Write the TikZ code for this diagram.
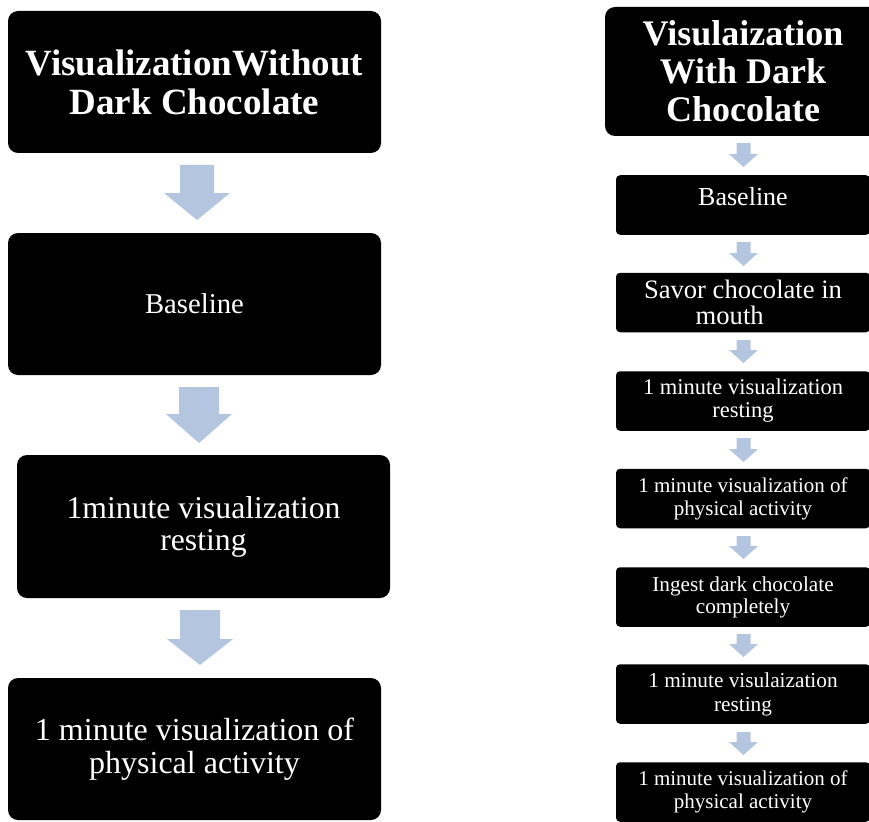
\documentclass[tikz,border=0pt]{standalone}
\usepackage{fontspec}
\setmainfont{Liberation Serif}
\definecolor{arrowfill}{RGB}{180,197,223}
\tikzset{
  lbox/.style={fill=black, rounded corners=10pt, minimum width=373pt, minimum height=142pt, text=white, align=center, inner sep=0pt},
  rbox/.style={fill=black, rounded corners=4pt, minimum width=254pt, minimum height=59.5pt, text=white, align=center, inner sep=0pt},
}
\newcommand\barrow[6]{%
  \fill[arrowfill] (#1-#4,#2) -- (#1+#4,#2) -- (#1+#4,#3-#6) -- (#1+#5,#3-#6) -- (#1,#3) -- (#1-#5,#3-#6) -- (#1-#4,#3-#6) -- cycle;}
\begin{document}
\begin{tikzpicture}[x=1pt,y=-1pt]
\useasboundingbox (0,0) rectangle (869,821);
\clip (0,0) rectangle (869,821);
% left column
\node[lbox, font=\bfseries\fontsize{37}{39}\selectfont] (L1) at (194.5,82) {VisualizationWithout\\Dark Chocolate};
\node[lbox, font=\fontsize{28.7}{30}\selectfont] (L2) at (194.5,304) {Baseline};
\node[lbox, minimum height=143pt, font=\fontsize{31.7}{32}\selectfont] (L3) at (203.5,526.5) {1minute visualization\\resting};
\node[lbox, font=\fontsize{32}{33}\selectfont] (L4) at (194.5,749) {1 minute visualization of\\physical activity};
\barrow{197}{165}{220}{17}{33}{27}
\barrow{199}{387}{443}{20}{33}{29}
\barrow{200}{610}{665}{20}{33}{26}
% right column
\node[lbox, minimum width=276pt, minimum height=129pt, font=\bfseries\fontsize{36}{38}\selectfont] (R0) at (743,71.5) {Visulaization\\With Dark\\Chocolate};
\node[rbox, text depth=18pt, font=\fontsize{26}{28}\selectfont] (R1) at (743,205) {Baseline};
\node[rbox, font=\fontsize{26.6}{26}\selectfont] (R2) at (743,302.5) {Savor chocolate in\\mouth\hspace*{1em}};
\node[rbox, font=\fontsize{22.5}{23}\selectfont] (R3) at (743,401) {1 minute visualization\\resting};
\node[rbox, font=\fontsize{21}{23}\selectfont] (R4) at (743,498.5) {1 minute visualization of\\physical activity};
\node[rbox, font=\fontsize{21.2}{22}\selectfont] (R5) at (743,597) {Ingest dark chocolate\\completely};
\node[rbox, font=\fontsize{21.3}{24}\selectfont] (R6) at (743,694) {1 minute visulaization\\resting};
\node[rbox, font=\fontsize{21}{23}\selectfont] (R7) at (743,792) {1 minute visualization of\\physical activity};
\barrow{743.5}{143}{167}{7}{14.5}{13}
\barrow{743.5}{242}{266}{7}{14.5}{13}
\barrow{743.5}{340}{363}{7}{14.5}{13}
\barrow{743.5}{438}{462}{7}{14.5}{13}
\barrow{743.5}{536}{559}{7}{14.5}{13}
\barrow{743.5}{634}{657}{7}{14.5}{13}
\barrow{743.5}{732}{755}{7}{14.5}{13}
\end{tikzpicture}
\end{document}
